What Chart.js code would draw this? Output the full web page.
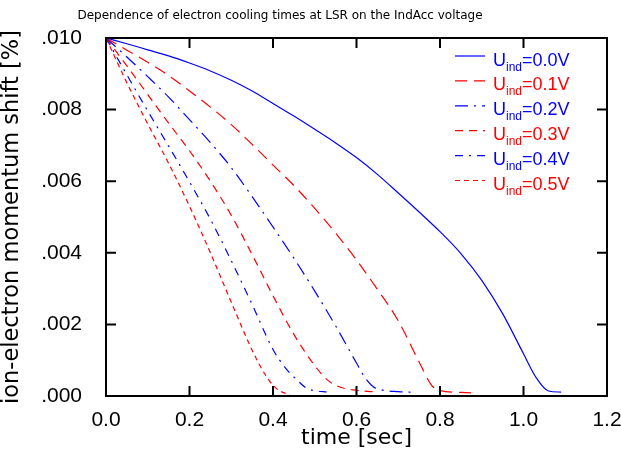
<!DOCTYPE html>
<html>
<head>
<meta charset="utf-8">
<script src="https://cdn.jsdelivr.net/npm/chart.js@4.4.0/dist/chart.umd.min.js"></script>
<style>
  html, body { margin: 0; padding: 0; background: #fff; }
</style>
</head>
<body>
<canvas id="cooling" width="621" height="449"></canvas>
<script>
const chartTitle = 'Dependence of electron cooling times at LSR on the IndAcc voltage';
const xTitle = 'time [sec]';
const yTitle = 'ion-electron momentum shift [%]';
const voltages = ['0.0', '0.1', '0.2', '0.3', '0.4', '0.5'];

// values, one time/shift pair of arrays per voltage
const time00 = [0, 0.05, 0.1, 0.15, 0.2, 0.25, 0.3, 0.35, 0.4, 0.45, 0.5, 0.55, 0.6, 0.65, 0.7, 0.75, 0.8, 0.85, 0.9, 0.95, 1.0, 1.03, 1.06, 1.09];
const shift00 = [0.0100, 0.00984, 0.00967, 0.00950, 0.00930, 0.00908, 0.00882, 0.00852, 0.00817, 0.00782, 0.00745, 0.00707, 0.00666, 0.00619, 0.00567, 0.00514, 0.00459, 0.00398, 0.00323, 0.00230, 0.00118, 0.00052, 0.00014, 0.00011];

const time01 = [0, 0.05, 0.1, 0.15, 0.2, 0.25, 0.3, 0.35, 0.4, 0.45, 0.5, 0.55, 0.6, 0.65, 0.7, 0.75, 0.78, 0.8, 0.85, 0.89];
const shift01 = [0.0100, 0.00966, 0.00932, 0.00895, 0.00852, 0.00807, 0.00758, 0.00703, 0.00645, 0.00588, 0.00524, 0.00455, 0.00380, 0.00298, 0.00210, 0.00095, 0.00030, 0.00015, 0.00010, 0.00008];

const time02 = [0, 0.05, 0.1, 0.15, 0.2, 0.25, 0.3, 0.35, 0.4, 0.45, 0.5, 0.55, 0.6, 0.62, 0.64, 0.66, 0.7, 0.74];
const shift02 = [0.0100, 0.00947, 0.00892, 0.00835, 0.00772, 0.00708, 0.00638, 0.00557, 0.00472, 0.00385, 0.00293, 0.00196, 0.00092, 0.00052, 0.00026, 0.00017, 0.00012, 0.00010];

const time03 = [0, 0.05, 0.1, 0.15, 0.2, 0.25, 0.3, 0.35, 0.4, 0.45, 0.5, 0.53, 0.56, 0.6, 0.64];
const shift03 = [0.0100, 0.00922, 0.00842, 0.00762, 0.00685, 0.00600, 0.00505, 0.00395, 0.00280, 0.00172, 0.00085, 0.00045, 0.00025, 0.00016, 0.00012];

const time04 = [0, 0.05, 0.1, 0.15, 0.2, 0.25, 0.3, 0.35, 0.4, 0.43, 0.46, 0.48, 0.5, 0.53];
const shift04 = [0.0100, 0.00897, 0.00796, 0.00698, 0.00598, 0.00494, 0.00378, 0.00256, 0.00130, 0.00078, 0.00042, 0.00022, 0.00015, 0.00011];

const time05 = [0, 0.05, 0.1, 0.15, 0.2, 0.25, 0.3, 0.35, 0.38, 0.4, 0.42, 0.44];
const shift05 = [0.0100, 0.00875, 0.00760, 0.00650, 0.00530, 0.00400, 0.00262, 0.00128, 0.00062, 0.00030, 0.00012, 0.00004];

const allTimes = [time00, time01, time02, time03, time04, time05];
const allShifts = [shift00, shift01, shift02, shift03, shift04, shift05];

const BLUE = '#0000ff';
const RED = '#ff0000';
const lineColors = [BLUE, RED, BLUE, RED, BLUE, RED];
const lineDashes = [[], [12, 7], [13, 6, 2, 6], [8, 6], [8, 6, 2, 6], [5, 4]];

function toPoints(times, shifts) {
    return times.map(function(t, i) { return {x: t, y: shifts[i]}; });
}

// frame with inward ticks on all four sides
const framePlugin = {
    id: 'frame',
    afterDatasetsDraw(chart) {
        const ctx = chart.ctx;
        const a = chart.chartArea;
        const xs = chart.scales.x;
        const ys = chart.scales.y;
        const tl = 10;
        ctx.save();
        ctx.strokeStyle = '#000';
        ctx.lineWidth = 2;
        ctx.strokeRect(a.left, a.top, a.right - a.left, a.bottom - a.top);
        ctx.beginPath();
        xs.ticks.forEach(function(t) {
            const px = xs.getPixelForValue(t.value);
            ctx.moveTo(px, a.bottom); ctx.lineTo(px, a.bottom - tl);
            ctx.moveTo(px, a.top); ctx.lineTo(px, a.top + tl);
        });
        ys.ticks.forEach(function(t) {
            const py = ys.getPixelForValue(t.value);
            ctx.moveTo(a.left, py); ctx.lineTo(a.left + tl, py);
            ctx.moveTo(a.right, py); ctx.lineTo(a.right - tl, py);
        });
        ctx.stroke();
        ctx.restore();
    }
};

// legend with U_ind subscripts, plus the title line
const legendPlugin = {
    id: 'uindLegend',
    afterDraw(chart) {
        const ctx = chart.ctx;
        const a = chart.chartArea;
        ctx.save();
        chart.data.datasets.forEach(function(ds, i) {
            const y = a.top + 18 + i * 24.9;
            const x0 = a.right - 152;
            ctx.strokeStyle = ds.borderColor;
            ctx.lineWidth = 1.2;
            ctx.setLineDash(ds.borderDash);
            ctx.beginPath();
            ctx.moveTo(x0, y);
            ctx.lineTo(x0 + 30, y);
            ctx.stroke();
            ctx.setLineDash([]);
            ctx.fillStyle = ds.borderColor;
            ctx.textAlign = 'left';
            ctx.textBaseline = 'alphabetic';
            let tx = x0 + 38;
            ctx.font = '18px "Liberation Sans"';
            ctx.fillText('U', tx, y + 9.5);
            tx += ctx.measureText('U').width;
            ctx.font = '12px "Liberation Sans"';
            ctx.fillText('ind', tx, y + 14.5);
            tx += ctx.measureText('ind').width;
            ctx.font = '18px "Liberation Sans"';
            ctx.fillText('=' + voltages[i] + 'V', tx, y + 9.5);
        });
        ctx.fillStyle = '#000';
        ctx.font = '12px "DejaVu Sans"';
        ctx.textAlign = 'center';
        ctx.textBaseline = 'middle';
        ctx.fillText(chartTitle, 280, 16);
        ctx.restore();
    }
};

const datasets = allTimes.map(function(times, i) {
    return {
        label: 'Uind=' + voltages[i] + 'V',
        data: toPoints(times, allShifts[i]),
        borderColor: lineColors[i],
        borderDash: lineDashes[i],
        borderWidth: 1.2,
        pointRadius: 0,
        fill: false,
        cubicInterpolationMode: 'monotone'
    };
});

const ctx = document.getElementById('cooling').getContext('2d');
const coolingChart = new Chart(ctx, {
    type: 'line',
    data: { datasets: datasets },
    options: {
        responsive: false,
        animation: false,
        layout: { padding: { top: 38, right: 14, bottom: 0, left: 0 } },
        plugins: {
            legend: { display: false },
            tooltip: { enabled: false },
            title: { display: false }
        },
        scales: {
            x: {
                type: 'linear',
                min: 0,
                max: 1.2,
                grid: { display: false },
                border: { display: false },
                ticks: {
                    stepSize: 0.2,
                    padding: 4,
                    maxRotation: 0,
                    color: '#000',
                    font: { family: 'Liberation Sans', size: 21 },
                    callback: function(v) { return Number(v).toFixed(1); }
                },
                title: {
                    display: true,
                    text: xTitle,
                    color: '#000',
                    font: { family: 'DejaVu Sans', size: 22, lineHeight: 1 },
                    padding: 0
                },
                afterFit: function(s) { s.height = 53; s.paddingLeft = 0; s.paddingRight = 0; }
            },
            y: {
                type: 'linear',
                min: 0,
                max: 0.010,
                grid: { display: false },
                border: { display: false },
                ticks: {
                    stepSize: 0.002,
                    padding: 16,
                    color: '#000',
                    font: { family: 'Liberation Sans', size: 21 },
                    callback: function(v) { return Number(v).toFixed(3).replace(/^0/, ''); }
                },
                title: {
                    display: true,
                    text: yTitle,
                    color: '#000',
                    font: { family: 'DejaVu Sans', size: 22.5, lineHeight: 1 },
                    padding: { top: 1, bottom: 0 }
                },
                afterFit: function(s) { s.width = 106; s.paddingTop = 0; s.paddingBottom = 0; }
            }
        }
    },
    plugins: [framePlugin, legendPlugin]
});
</script>
</body>
</html>
